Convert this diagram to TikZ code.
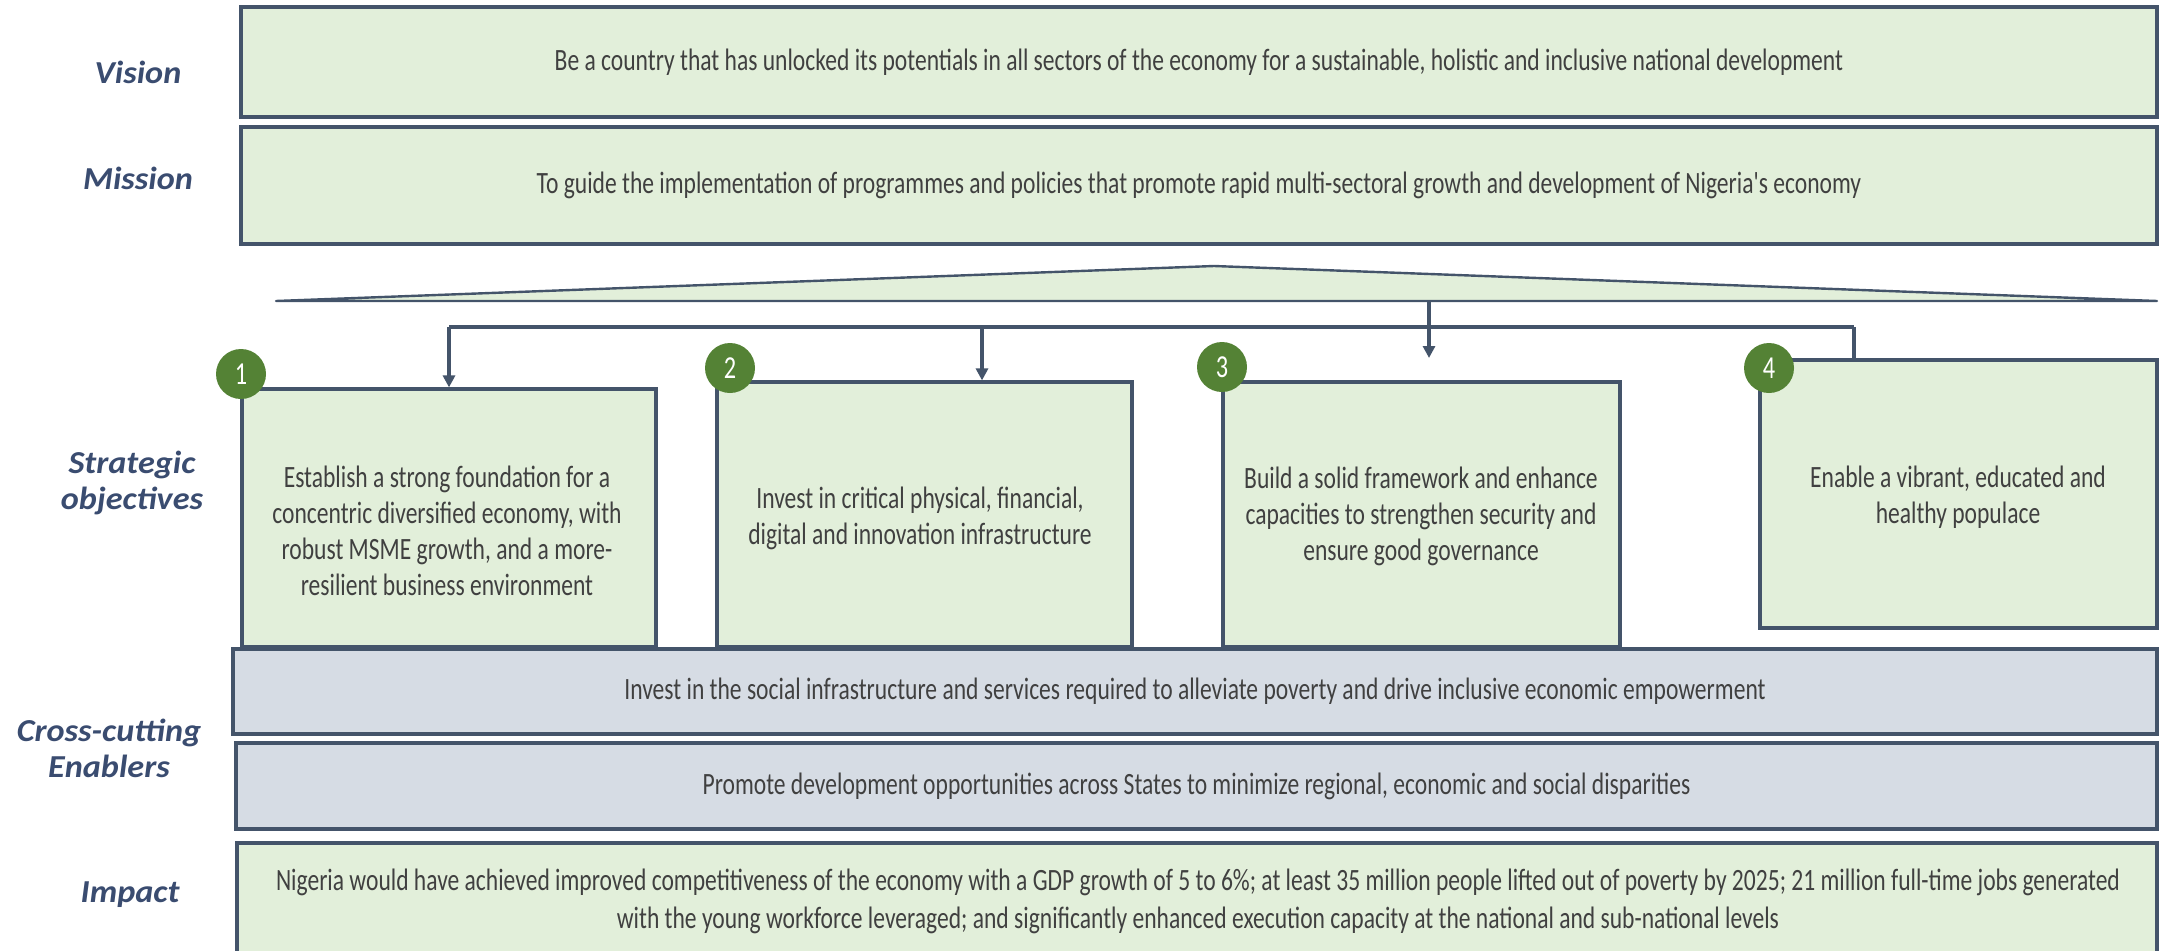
\documentclass[tikz,border=0pt]{standalone}
\usepackage{fontspec}
\usepackage{xcolor}
\usetikzlibrary{arrows.meta}
\newfontfamily\boxfont[FakeStretch=0.76]{Carlito}
\newfontfamily\labelfont[FakeStretch=1.07]{Carlito}
\definecolor{objgreen}{HTML}{E2EFDA}
\definecolor{enabgrey}{HTML}{D6DCE4}
\definecolor{edgeslate}{HTML}{44546A}
\definecolor{numgreen}{HTML}{548235}
\definecolor{labelblue}{HTML}{3A4C70}
\definecolor{bodytext}{HTML}{404040}

\begin{document}
\begin{tikzpicture}[x=1pt, y=-1pt,
    greenbox/.style={rectangle, draw=edgeslate, line width=3.2pt, fill=objgreen, inner sep=0pt},
    greybox/.style={rectangle, draw=edgeslate, line width=3.2pt, fill=enabgrey, inner sep=0pt},
    boxtext/.style={align=center, text=bodytext, font=\boxfont\fontsize{31}{36}\selectfont},
    rowlabel/.style={align=center, text=labelblue, font=\labelfont\bfseries\itshape\fontsize{32}{36}\selectfont},
    numdot/.style={circle, fill=numgreen, minimum size=50pt, inner sep=0pt, text=white, font=\boxfont\fontsize{32}{32}\selectfont},
    feed/.style={draw=edgeslate, line width=3.6pt},
    feedarrow/.style={feed, -{Triangle[width=12pt, length=12pt]}}]
            \useasboundingbox (0,0) rectangle (2159,950);

            \node[greenbox, minimum width=1916pt, minimum height=110pt] (vision) at (1199,62) {};
            \node[greenbox, minimum width=1916pt, minimum height=117pt] (mission) at (1199,185.5) {};
            \node[boxtext] at (vision.center) {Be a country that has unlocked its potentials in all sectors of the economy for a sustainable, holistic and inclusive national development};
            \node[boxtext] at (mission.center) {To guide the implementation of programmes and policies that promote rapid multi-sectoral growth and development of Nigeria's economy};

            \draw[fill=objgreen, draw=edgeslate, line width=2.4pt, line join=round] (276,301) -- (1214,266) -- (2157,301) -- cycle;

            \node[greenbox, minimum width=414pt, minimum height=258pt] (obj1) at (449,518) {};
            \node[greenbox, minimum width=415pt, minimum height=265pt] (obj2) at (924.5,514.5) {};
            \node[greenbox, minimum width=397pt, minimum height=265pt] (obj3) at (1421.5,514.5) {};
            \node[greenbox, minimum width=397pt, minimum height=268pt] (obj4) at (1958.5,494) {};
            \node[boxtext] at (447,531) {Establish a strong foundation for a\\concentric diversified economy, with\\robust MSME growth, and a more-\\resilient business environment};
            \node[boxtext] at (920,518) {Invest in critical physical, financial,\\digital and innovation infrastructure};
            \node[boxtext] at (1421,516) {Build a solid framework and enhance\\capacities to strengthen security and\\ensure good governance};
            \node[boxtext] at (1958,497) {Enable a vibrant, educated and\\healthy populace};

            \node[numdot] (n1) at (241,374) {1};
            \node[numdot] (n2) at (730,368) {2};
            \node[numdot] (n3) at (1222,367) {3};
            \node[numdot] (n4) at (1769,368) {4};

            \coordinate (busL) at (449,327);
            \coordinate (bus2) at (982,327);
            \coordinate (busR) at (1854,327);
            \coordinate (tri3) at (1429,301);
            \coordinate (tip3) at (1429,358);
            \draw[feed] (busL) -- (busR);
            \draw[feedarrow] (busL) -- (obj1.north);
            \draw[feedarrow] (bus2) -- (bus2 |- obj2.north);
            \draw[feedarrow] (tri3) -- (tip3);
            \draw[feed] (busR) -- (busR |- obj4.north);

            \node[greybox, minimum width=1924pt, minimum height=85pt] (enab1) at (1195,691.5) {};
            \node[greybox, minimum width=1921pt, minimum height=86pt] (enab2) at (1196.5,786) {};
            \node[greenbox, minimum width=1920pt, minimum height=115pt] (impact) at (1197,900.5) {};
            \node[boxtext] at (enab1.center) {Invest in the social infrastructure and services required to alleviate poverty and drive inclusive economic empowerment};
            \node[boxtext] at (enab2.center) {Promote development opportunities across States to minimize regional, economic and social disparities};
            \node[boxtext, font=\boxfont\fontsize{31}{38}\selectfont] at (1198,901) {Nigeria would have achieved improved competitiveness of the economy with a GDP growth of 5 to 6\%; at least 35 million people lifted out of poverty by 2025; 21 million full-time jobs generated\\with the young workforce leveraged; and significantly enhanced execution capacity at the national and sub-national levels};

            \node[rowlabel] at (138,72) {Vision};
            \node[rowlabel] at (138,178) {Mission};
            \node[rowlabel] at (132,483) {Strategic\\objectives};
            \node[rowlabel] at (109,748) {Cross-cutting\\Enablers};
            \node[rowlabel] at (130,895) {Impact};
        \end{tikzpicture}
\end{document}
